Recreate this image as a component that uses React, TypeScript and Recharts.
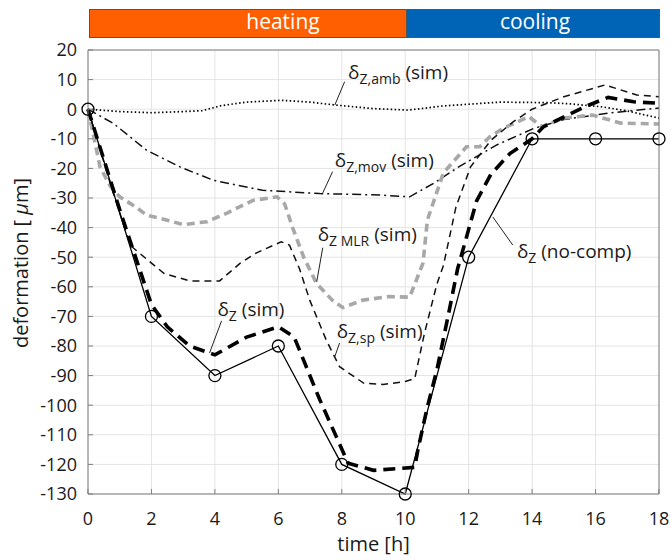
import React from 'react';
import {
  LineChart,
  Line,
  XAxis,
  YAxis,
  CartesianGrid,
  ReferenceLine,
  ReferenceDot,
} from 'recharts';

const FONT = "'Open Sans', 'Noto Sans', sans-serif";

const timeTicks = [0, 2, 4, 6, 8, 10, 12, 14, 16, 18];
const deformTicks = [20, 10, 0, -10, -20, -30, -40, -50, -60, -70, -80, -90, -100, -110, -120, -130];

// measured, no compensation (solid with circles)
const noCompTime = [0, 2, 4, 6, 8, 10, 12, 14, 16, 18];
const noCompValue = [0, -70, -90, -80, -120, -130, -50, -10, -10, -10];

// delta_Z (sim), thick dashed
const zSimTime = [0, 1, 2, 2.5, 3.2, 4, 5, 6, 6.5, 7.3, 8.2, 9, 10.3, 10.4, 10.7, 11, 11.35, 11.65, 12.25, 12.7, 13.3, 14, 14.35, 15.7, 16.4, 17.2, 18];
const zSimValue = [0, -34, -66, -73.5, -80, -83, -77, -73.5, -77, -98, -119.6, -122, -121, -115, -100.5, -88, -70, -54, -31, -22, -15, -10, -6, 1, 4, 2.5, 2];

// delta_Z,sp (sim), thin dashed
const spTime = [0, 0.7, 1.33, 2, 2.4, 3.2, 4.15, 4.8, 5.3, 6.09, 6.35, 6.67, 6.99, 7.51, 7.93, 8.2, 8.7, 9.3, 10, 10.3, 10.6, 11, 11.2, 11.6, 12.06, 12.7, 13.4, 14, 15, 16.3, 17.3, 18];
const spValue = [0, -25, -46, -52, -55.5, -58, -58, -52, -48.6, -44.8, -45.9, -54, -64.5, -78, -87, -89, -92.6, -93, -92, -91, -76, -59, -53, -33, -19.5, -10.5, -4.3, 0, 4.2, 8.2, 4.8, 4.2];

// delta_Z MLR (sim), grey dashed
const mlrTime = [0, 0.38, 0.7, 1, 1.5, 1.85, 2.5, 3, 3.75, 4.4, 5.2, 5.96, 6.2, 6.45, 6.8, 7.2, 7.7, 8.03, 8.67, 9.5, 10.14, 10.56, 10.7, 11.2, 11.93, 12.35, 12.67, 13.1, 13.9, 14.3, 15, 15.9, 16.8, 18];
const mlrValue = [0, -19.5, -26, -29.6, -33, -35.8, -37.5, -39, -38, -35, -30.8, -29.6, -32, -40, -50, -58.8, -64.5, -67, -64.5, -63.3, -63.5, -52, -37.4, -21.6, -12.7, -12.7, -9.3, -6.4, -2.5, -5.9, -3, -2, -4.7, -5];

// delta_Z,mov (sim), dash-dot
const movTime = [0, 0.8, 1.85, 2.9, 3.95, 5.5, 7.3, 9.2, 10.14, 10.9, 11.7, 12.9, 14.05, 15, 16.4, 18];
const movValue = [0, -4.8, -13.9, -19.5, -24, -27.4, -28.5, -29, -29.6, -25, -19.4, -12, -6.5, -3.5, -1.3, 0.4];

// delta_Z,amb (sim), dotted
const ambTime = [0, 1, 2, 3, 3.6, 4.2, 5, 6.1, 7, 7.8, 9, 10.1, 11.2, 13, 14.5, 15.2, 16.2, 17, 18];
const ambValue = [0, -0.8, -1.2, -0.8, -0.5, 1.2, 2.4, 3, 2.4, 1.4, 0.2, -0.3, 1.1, 2.4, 2.2, 1.8, 0.8, -0.6, -3];

const toRows = (t: number[], v: number[]) => t.map((x, i) => ({ t: x, v: v[i] }));

// annotation text: subscript, suffix, anchor (time, deformation) and leader line
const tags = [
  { sub: 'Z,amb', tail: '(sim)', at: [8.2, 10.2], lead: [[8.09, 9.3], [7.78, 1.4]] },
  { sub: 'Z,mov', tail: '(sim)', at: [7.78, -19.5], lead: [[7.71, -21.1], [7.4, -28.3]] },
  { sub: 'Z MLR', tail: '(sim)', at: [7.24, -44.5], lead: [[7.4, -46.8], [7.21, -58.3]] },
  { sub: 'Z', tail: '(sim)', at: [4.08, -69.9], lead: [[4.21, -71.5], [3.83, -82.4]] },
  { sub: 'Z,sp', tail: '(sim)', at: [7.84, -77.3], lead: [[7.93, -79], [7.78, -83.6]] },
  { sub: 'Z', tail: '(no-comp)', at: [13.52, -50.3], lead: [[13.39, -45.9], [12.76, -36.4]] },
];

function Tag({ cx, cy, sub, tail }: { cx: number; cy: number; sub: string; tail: string }) {
  return (
    <text x={cx} y={cy} fontFamily={FONT} fontSize={19} fill="#1a1a1a">
      δ
      <tspan fontSize={14} dy={5}>{sub}</tspan>
      <tspan dy={-5}>{' ' + tail}</tspan>
    </text>
  );
}

const axisColor = '#7f7f7f';
const tickStyle = { fontSize: 18, fontFamily: FONT, fill: '#1a1a1a' };

export default function App() {
  return (
    <div style={{ position: 'absolute', left: 0, top: 0, width: 670, height: 560, background: '#fff' }}>
      <div
        style={{
          position: 'absolute', left: 89, top: 9, width: 318, height: 29, boxSizing: 'border-box',
          background: '#ff5f00', border: '1px solid #555',
        }}
      />
      <div
        style={{
          position: 'absolute', left: 406, top: 9, width: 254, height: 29, boxSizing: 'border-box',
          background: '#0064b6', border: '1px solid #555',
        }}
      />
      <div style={{ position: 'absolute', left: 233, top: 7, width: 100, textAlign: 'center', color: '#fff', font: `21px ${FONT}` }}>
        heating
      </div>
      <div style={{ position: 'absolute', left: 485, top: 7, width: 100, textAlign: 'center', color: '#fff', font: `21px ${FONT}` }}>
        cooling
      </div>

      <LineChart
        width={670}
        height={560}
        margin={{ top: 49, right: 10, bottom: 26, left: 28 }}
        style={{ position: 'absolute', left: 0, top: 0 }}
      >
        <CartesianGrid stroke="#e4e4e4" />
        <XAxis
          dataKey="t"
          type="number"
          domain={[0, 18]}
          ticks={timeTicks}
          height={40}
          tickSize={-5}
          tickMargin={23}
          tick={tickStyle}
          stroke={axisColor}
          label={{ value: 'time [h]', position: 'bottom', offset: 3, style: { fontSize: 20, fontFamily: FONT, fill: '#1a1a1a' } }}
        />
        <XAxis
          xAxisId="top"
          orientation="top"
          type="number"
          domain={[0, 18]}
          ticks={timeTicks}
          height={1}
          tickSize={-5}
          tickFormatter={() => ''}
          stroke={axisColor}
        />
        <YAxis
          type="number"
          domain={[-130, 20]}
          ticks={deformTicks}
          width={60}
          tickSize={-5}
          tickMargin={16}
          tick={tickStyle}
          stroke={axisColor}
          label={{
            content: () => (
              <text
                x={28}
                y={263}
                transform="rotate(-90 28 263)"
                textAnchor="middle"
                fontFamily={FONT}
                fontSize={20}
                fill="#1a1a1a"
              >
                deformation [ <tspan fontStyle="italic">μ</tspan>m]
              </text>
            ),
          }}
        />
        <YAxis
          yAxisId="right"
          orientation="right"
          type="number"
          domain={[-130, 20]}
          ticks={deformTicks}
          width={1}
          tickSize={-5}
          tickFormatter={() => ''}
          stroke={axisColor}
        />

        <Line data={toRows(ambTime, ambValue)} dataKey="v" stroke="#000" strokeWidth={1.7}
          strokeDasharray="1.5 2.4" dot={false} isAnimationActive={false} />
        <Line data={toRows(movTime, movValue)} dataKey="v" stroke="#111" strokeWidth={1.5}
          strokeDasharray="9 4 2 4" dot={false} isAnimationActive={false} />
        <Line data={toRows(mlrTime, mlrValue)} dataKey="v" stroke="#a8a8a8" strokeWidth={3.6}
          strokeDasharray="8 5" dot={false} isAnimationActive={false} />
        <Line data={toRows(spTime, spValue)} dataKey="v" stroke="#111" strokeWidth={1.5}
          strokeDasharray="7 5" dot={false} isAnimationActive={false} />
        <Line data={toRows(zSimTime, zSimValue)} dataKey="v" stroke="#000" strokeWidth={3.6}
          strokeDasharray="12 7" dot={false} isAnimationActive={false} />
        <Line data={toRows(noCompTime, noCompValue)} dataKey="v" stroke="#000" strokeWidth={1.3}
          dot={{ r: 6, fill: 'none', stroke: '#000', strokeWidth: 1.3 }} isAnimationActive={false} />

        {tags.map((g, i) => (
          <ReferenceLine
            key={'lead' + i}
            segment={[{ x: g.lead[0][0], y: g.lead[0][1] }, { x: g.lead[1][0], y: g.lead[1][1] }]}
            stroke="#222"
            strokeWidth={1}
          />
        ))}
        {tags.map((g, i) => (
          <ReferenceDot
            key={'tag' + i}
            x={g.at[0]}
            y={g.at[1]}
            r={0}
            shape={(p: any) => <Tag cx={p.cx} cy={p.cy} sub={g.sub} tail={g.tail} />}
          />
        ))}
      </LineChart>
    </div>
  );
}
